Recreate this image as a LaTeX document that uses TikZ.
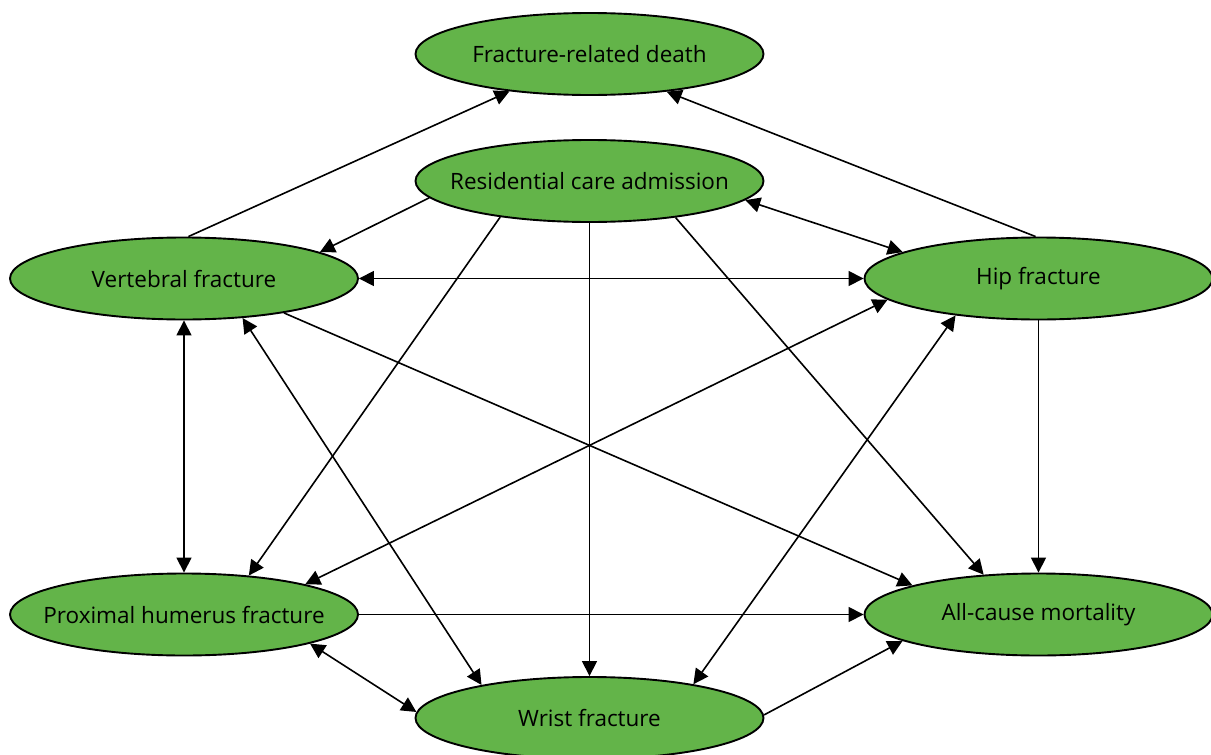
\documentclass[tikz,border=0pt]{standalone}
\usepackage{fontspec}
\setmainfont{Open Sans}
\usetikzlibrary{shapes.geometric,arrows.meta}
\definecolor{nodegreen}{RGB}{99,180,73}
\newcommand{\ovaltext}[1]{\makebox[0pt][c]{#1}}
\tikzset{
  oval/.style={ellipse, draw=black, line width=1.9pt, fill=nodegreen, minimum width=348pt, minimum height=82pt, inner sep=0pt, font=\fontsize{22.5}{26}\selectfont},
  conn/.style={line width=1.6pt, -{Triangle[length=15pt,width=15pt]}},
  bconn/.style={line width=1.6pt, {Triangle[length=15pt,width=15pt]}-{Triangle[length=15pt,width=15pt]}}
}
\begin{document}
\begin{tikzpicture}[x=1pt,y=-1pt]
\useasboundingbox (0,0) rectangle (1211,755);
\node[oval] (frd) at (589.5,54) {\ovaltext{Fracture-related death}};
\node[oval] (rca) at (589.5,181) {\ovaltext{Residential care admission}};
\node[oval] (vert) at (184,278.5) {\ovaltext{Vertebral fracture}};
\node[oval] (hip) at (1038.5,278.5) {\ovaltext{Hip fracture}};
\node[oval] (ph) at (184,614.5) {\ovaltext{Proximal humerus fracture}};
\node[oval] (acm) at (1038.5,614.5) {\ovaltext{All-cause mortality}};
\node[oval] (wrist) at (589.5,718) {\ovaltext{Wrist fracture}};
\draw[conn] (vert.84) -- (frd.205.5);
\draw[conn] (hip.94) -- (frd.334);
\draw[conn] (rca.186.9) -- (vert.11.3);
\draw[bconn] (rca.353.1) -- (hip.169.5);
\draw[bconn] (vert.east) -- (hip.west);
\draw[conn] (rca.202.5) -- (ph.31);
\draw[conn] (rca.south) -- (wrist.north);
\draw[conn] (rca.337.8) -- (acm.144.1);
\draw[bconn] (vert.south) -- (ph.north);
\draw[bconn] (vert.326) -- (wrist.163.7);
\draw[conn] (vert.341.6) -- (acm.167.2);
\draw[bconn] (hip.188.85) -- (ph.14.8);
\draw[bconn] (hip.204.1) -- (wrist.18);
\draw[conn] (hip.south) -- (acm.north);
\draw[conn] (ph.east) -- (acm.west);
\draw[bconn] (ph.347.7) -- (wrist.178.4);
\draw[conn] (wrist.1.3) -- (acm.191.7);
\end{tikzpicture}
\end{document}
